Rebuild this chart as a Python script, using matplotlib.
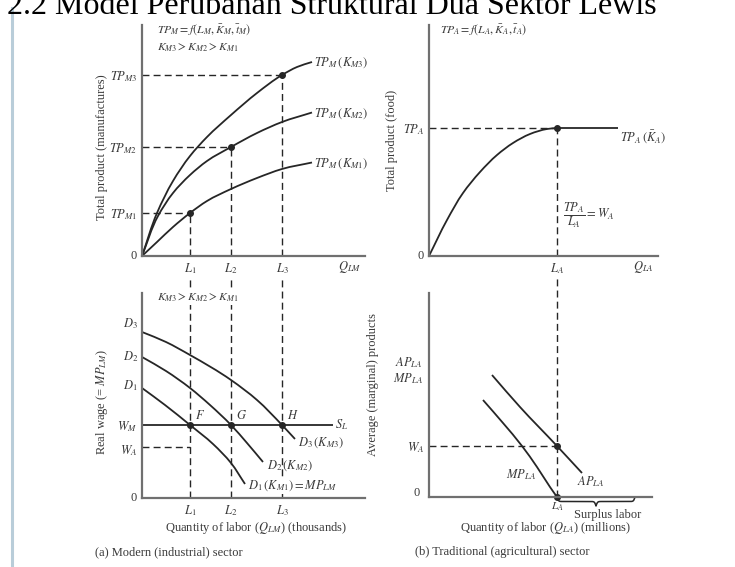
import matplotlib

matplotlib.use("Agg")

import matplotlib.pyplot as plt
from matplotlib.lines import Line2D
from matplotlib.patches import PathPatch
from matplotlib.path import Path
import numpy as np

plt.rcParams["font.family"] = ["Liberation Serif", "DejaVu Serif"]
plt.rcParams["mathtext.fontset"] = "stix"

INK = "#262626"
TEXT = "#3a3a3a"
AXIS = "#707070"
DASH = (0, (5, 3))

# (a) modern sector, total product
labor_m = [4.8, 8.9, 14.0]          # L1, L2, L3
tp_m_levels = [4.3, 10.9, 18.1]     # TP_M1, TP_M2, TP_M3
tp_k1_x = [0, 1.5, 3.1, 4.8, 6.5, 8.9, 11.5, 14.0, 17.0]
tp_k1_y = [0, 1.4, 2.9, 4.3, 5.5, 6.7, 7.8, 8.7, 9.35]
tp_k2_x = [0, 1.6, 3.1, 4.8, 6.5, 8.9, 11.5, 14.0, 17.0]
tp_k2_y = [0, 4.0, 6.3, 8.1, 9.5, 10.9, 12.3, 13.4, 14.35]
tp_k3_x = [0, 1.5, 3.1, 4.8, 6.5, 8.9, 11.5, 14.0, 15.5, 17.0]
tp_k3_y = [0, 4.3, 7.5, 10.0, 11.9, 14.1, 16.3, 18.1, 18.9, 19.4]

# (a) modern sector, labour demand curves
w_m = 7.3
w_a_m = 5.1
s_l_end = 19.1
d1_x = [0, 2.3, 4.8, 7.1, 8.9, 10.3]
d1_y = [11.0, 9.3, 7.3, 5.4, 3.5, 1.4]
d2_x = [0, 2.4, 4.8, 6.8, 8.9, 10.5, 12.1]
d2_y = [14.1, 12.7, 11.0, 9.3, 7.3, 5.5, 3.6]
d3_x = [0, 2.4, 4.8, 8.9, 11.5, 14.0, 15.3]
d3_y = [16.6, 15.6, 14.3, 11.8, 9.8, 7.3, 5.9]
d_label_y = [11.2, 14.1, 17.4]

# (b) traditional sector, total product
labor_a = 12.8
tp_a = 12.8
tp_a_end = 18.9
tp_a_x = [0, 1.8, 3.4, 5.1, 6.8, 8.4, 10.1, 11.8, 12.8]
tp_a_y = [0, 3.6, 6.3, 8.4, 10.1, 11.3, 12.2, 12.7, 12.8]

# (b) traditional sector, average and marginal products
w_a = 5.1
mp_x = [5.4, 7.4, 9.3, 10.8, 12.1, 12.8]
mp_y = [9.7, 7.4, 5.1, 3.0, 1.0, 0.0]
ap_x = [6.3, 9.1, 12.8, 15.3]
ap_y = [12.2, 9.0, 5.1, 2.4]
surplus_end = 20.6

W, H = 735, 567


def _box(left, top, right, bottom):
    return [left / W, 1 - bottom / H, (right - left) / W, (bottom - top) / H]


def _setup(ax, xmax, ymax):
    ax.set_xlim(0, xmax)
    ax.set_ylim(0, ymax)
    for side in ("top", "right"):
        ax.spines[side].set_visible(False)
    for side in ("left", "bottom"):
        ax.spines[side].set_color(AXIS)
        ax.spines[side].set_linewidth(1.6)
    ax.tick_params(length=0, labelsize=9, colors=TEXT, pad=3.5)
    ax.set_xticks([])
    ax.set_yticks([])
    ax.patch.set_alpha(0)


def _curve(ax, xs, ys, lw=1.3):
    # smooth bezier through the read points (chord-length tangents)
    pts = np.column_stack([xs, ys]).astype(float)
    seg = np.hypot(*np.diff(pts, axis=0).T)
    t = np.concatenate([[0], np.cumsum(seg)])
    tang = np.gradient(pts, t, axis=0)
    verts, codes = [pts[0]], [Path.MOVETO]
    for i in range(len(pts) - 1):
        h = t[i + 1] - t[i]
        verts += [pts[i] + tang[i] * h / 3, pts[i + 1] - tang[i + 1] * h / 3, pts[i + 1]]
        codes += [Path.CURVE4] * 3
    ax.add_patch(PathPatch(Path(verts, codes), fill=False, edgecolor=INK, lw=lw))


def _brace(ax, x0, x1, y0, depth):
    beta = 14.0
    xs = np.linspace(x0, x1, 201)
    half = xs[:101]
    yh = 1 / (1 + np.exp(-beta * (half - half[0]))) + 1 / (1 + np.exp(-beta * (half - half[-1])))
    ys = np.concatenate((yh, yh[-2::-1]))
    ax.plot(xs, y0 - depth * (ys - 0.5), color=INK, lw=1.1, clip_on=False)


fig = plt.figure(figsize=(W / 100, H / 100), dpi=100)
fig.patch.set_facecolor("white")

fig.text(7 / W, 1 - 14 / H, "2.2 Model Perubahan Struktural Dua Sektor Lewis",
         fontsize=23, color="black", va="baseline", ha="left")
fig.add_artist(Line2D([11.5 / W, 11.5 / W], [0, 1 - 8 / H], color="#b9cdd9", lw=2.2))

# ---- top left ----
ax = fig.add_axes(_box(142, 25, 365, 256))
_setup(ax, 22.3, 23.1)
for xs, ys in ((tp_k1_x, tp_k1_y), (tp_k2_x, tp_k2_y), (tp_k3_x, tp_k3_y)):
    _curve(ax, xs, ys)
ax.hlines(tp_m_levels, 0, labor_m, color=INK, lw=1.0, linestyles=DASH)
ax.vlines(labor_m, 0, tp_m_levels, color=INK, lw=1.0, linestyles=DASH)
ax.plot(labor_m, tp_m_levels, "o", ms=4, color=INK)
ax.set_xticks(labor_m, [r"$L_1$", r"$L_2$", r"$L_3$"])
ax.set_yticks(tp_m_levels, [r"$TP_{M1}$", r"$TP_{M2}$", r"$TP_{M3}$"])
for name, ys in (("K_{M1}", tp_k1_y), ("K_{M2}", tp_k2_y), ("K_{M3}", tp_k3_y)):
    ax.text(tp_k1_x[-1] + 0.2, ys[-1] - 0.1, rf"$TP_M\,({name})$", fontsize=9,
            color=TEXT, va="center", ha="left", clip_on=False)
ax.text(1.5, 22.6, r"$TP_M = f(L_M, \bar{K}_M, \bar{t}_M)$", fontsize=8.5, color=TEXT, va="center")
ax.text(1.5, 20.8, r"$K_{M3} > K_{M2} > K_{M1}$", fontsize=8.5, color=TEXT, va="center")
ax.text(-0.5, 0, "0", fontsize=9, color=TEXT, ha="right", va="center")
ax.text(20.8, -1.1, r"$Q_{LM}$", fontsize=9, color=TEXT, ha="center", va="center")
ax.text(-4.0, 10.9, "Total product (manufactures)", fontsize=9, color=TEXT,
        rotation=90, ha="center", va="center")

# ---- top right ----
ax = fig.add_axes(_box(429, 25, 658, 256))
_setup(ax, 22.9, 23.1)
_curve(ax, tp_a_x, tp_a_y)
ax.hlines(tp_a, labor_a, tp_a_end, color=INK, lw=1.3)
ax.hlines(tp_a, 0, labor_a, color=INK, lw=1.0, linestyles=DASH)
ax.vlines(labor_a, 0, tp_a, color=INK, lw=1.0, linestyles=DASH)
ax.plot([labor_a], [tp_a], "o", ms=4, color=INK)
ax.set_xticks([labor_a], [r"$L_A$"])
ax.set_yticks([tp_a], [r"$TP_A$"])
ax.text(tp_a_end + 0.2, tp_a - 0.9, r"$TP_A\,(\bar{K}_A)$", fontsize=9, color=TEXT, va="center")
ax.text(labor_a + 0.6, 4.1, r"$\dfrac{TP_A}{L_A} = W_A$", fontsize=9, color=TEXT, va="center")
ax.text(1.1, 22.6, r"$TP_A = f(L_A, \bar{K}_A, \bar{t}_A)$", fontsize=8.5, color=TEXT, va="center")
ax.text(-0.5, 0, "0", fontsize=9, color=TEXT, ha="right", va="center")
ax.text(21.4, -1.1, r"$Q_{LA}$", fontsize=9, color=TEXT, ha="center", va="center")
ax.text(-3.7, 11.6, "Total product (food)", fontsize=9, color=TEXT,
        rotation=90, ha="center", va="center")

# ---- bottom left ----
ax = fig.add_axes(_box(142, 293, 365, 498))
_setup(ax, 22.3, 20.5)
for xs, ys in ((d1_x, d1_y), (d2_x, d2_y), (d3_x, d3_y)):
    _curve(ax, xs, ys)
ax.hlines(w_m, 0, s_l_end, color=INK, lw=1.3)
for x in labor_m:
    ax.axvline(x, ymin=0, ymax=1.078, color=INK, lw=1.0, ls=DASH, clip_on=False)
ax.hlines(w_a_m, 0, labor_m[0], color=INK, lw=1.0, linestyles=DASH)
ax.plot(labor_m, [w_m] * 3, "o", ms=4, color=INK)
ax.set_xticks(labor_m, [r"$L_1$", r"$L_2$", r"$L_3$"])
ax.set_yticks([w_a_m - 0.2, w_m], [r"$W_A$", r"$W_M$"])
for i, y in enumerate(d_label_y):
    ax.text(-0.4, y, rf"$D_{i + 1}$", fontsize=9, color=TEXT, ha="right", va="center")
for x, name in zip(labor_m, "FGH"):
    ax.text(x + 0.5, w_m + 0.3, rf"${name}$", fontsize=9, color=TEXT, va="bottom")
ax.text(s_l_end + 0.2, w_m, r"$S_L$", fontsize=9, color=TEXT, va="center")
ax.text(d3_x[-1] + 0.3, d3_y[-1] - 0.4, r"$D_3\,(K_{M3})$", fontsize=9, color=TEXT, va="center")
ax.text(d2_x[-1] + 0.4, d2_y[-1] - 0.4, r"$D_2\,(K_{M2})$", fontsize=9, color=TEXT, va="center")
ax.text(d1_x[-1] + 0.3, d1_y[-1] - 0.2, r"$D_1\,(K_{M1}) = MP_{LM}$", fontsize=9, color=TEXT,
        va="center", bbox=dict(facecolor="white", edgecolor="none", pad=0.5))
ax.text(1.5, 20.0, r"$K_{M3} > K_{M2} > K_{M1}$", fontsize=8.5, color=TEXT, va="center",
        bbox=dict(facecolor="white", edgecolor="none", pad=0.3))
ax.text(-0.5, 0, "0", fontsize=9, color=TEXT, ha="right", va="center")
ax.text(-4.0, 9.6, r"Real wage (= $MP_{LM}$)", fontsize=9, color=TEXT,
        rotation=90, ha="center", va="center")
ax.text(11.4, -3.0, r"Quantity of labor ($Q_{LM}$) (thousands)", fontsize=9, color=TEXT,
        ha="center", va="center")
ax.text(-4.7, -5.4, "(a) Modern (industrial) sector", fontsize=9, color=TEXT, va="center")

# ---- bottom right ----
ax = fig.add_axes(_box(429, 293, 652, 497))
_setup(ax, 22.3, 20.4)
_curve(ax, mp_x, mp_y)
_curve(ax, ap_x, ap_y)
ax.axvline(labor_a, ymin=0, ymax=1.078, color=INK, lw=1.0, ls=DASH, clip_on=False)
ax.hlines(w_a, 0, labor_a, color=INK, lw=1.0, linestyles=DASH)
ax.plot([labor_a, labor_a], [w_a, 0], "o", ms=4, color=INK, clip_on=False)
_brace(ax, labor_a, surplus_end, 0, 0.9)
ax.set_yticks([w_a], [r"$W_A$"])
ax.text(-0.6, 13.4, r"$AP_{LA}$", fontsize=9, color=TEXT, ha="right", va="center")
ax.text(-0.6, 11.8, r"$MP_{LA}$", fontsize=9, color=TEXT, ha="right", va="center")
ax.text(9.2, 2.2, r"$MP_{LA}$", fontsize=9, color=TEXT, ha="center", va="center")
ax.text(16.2, 1.5, r"$AP_{LA}$", fontsize=9, color=TEXT, ha="center", va="center")
ax.text(labor_a, -1.0, r"$L_A$", fontsize=8, color=TEXT, ha="center", va="center")
ax.text(17.9, -1.8, "Surplus labor", fontsize=9, color=TEXT, ha="center", va="center")
ax.text(-0.9, 0.4, "0", fontsize=9, color=TEXT, ha="right", va="center")
ax.text(-5.6, 11.2, "Average (marginal) products", fontsize=9, color=TEXT,
        rotation=90, ha="center", va="center")
ax.text(11.7, -3.1, r"Quantity of labor ($Q_{LA}$) (millions)", fontsize=9, color=TEXT,
        ha="center", va="center")
ax.text(-1.4, -5.5, "(b) Traditional (agricultural) sector", fontsize=9, color=TEXT, va="center")

fig.savefig("out.png", dpi=100)
